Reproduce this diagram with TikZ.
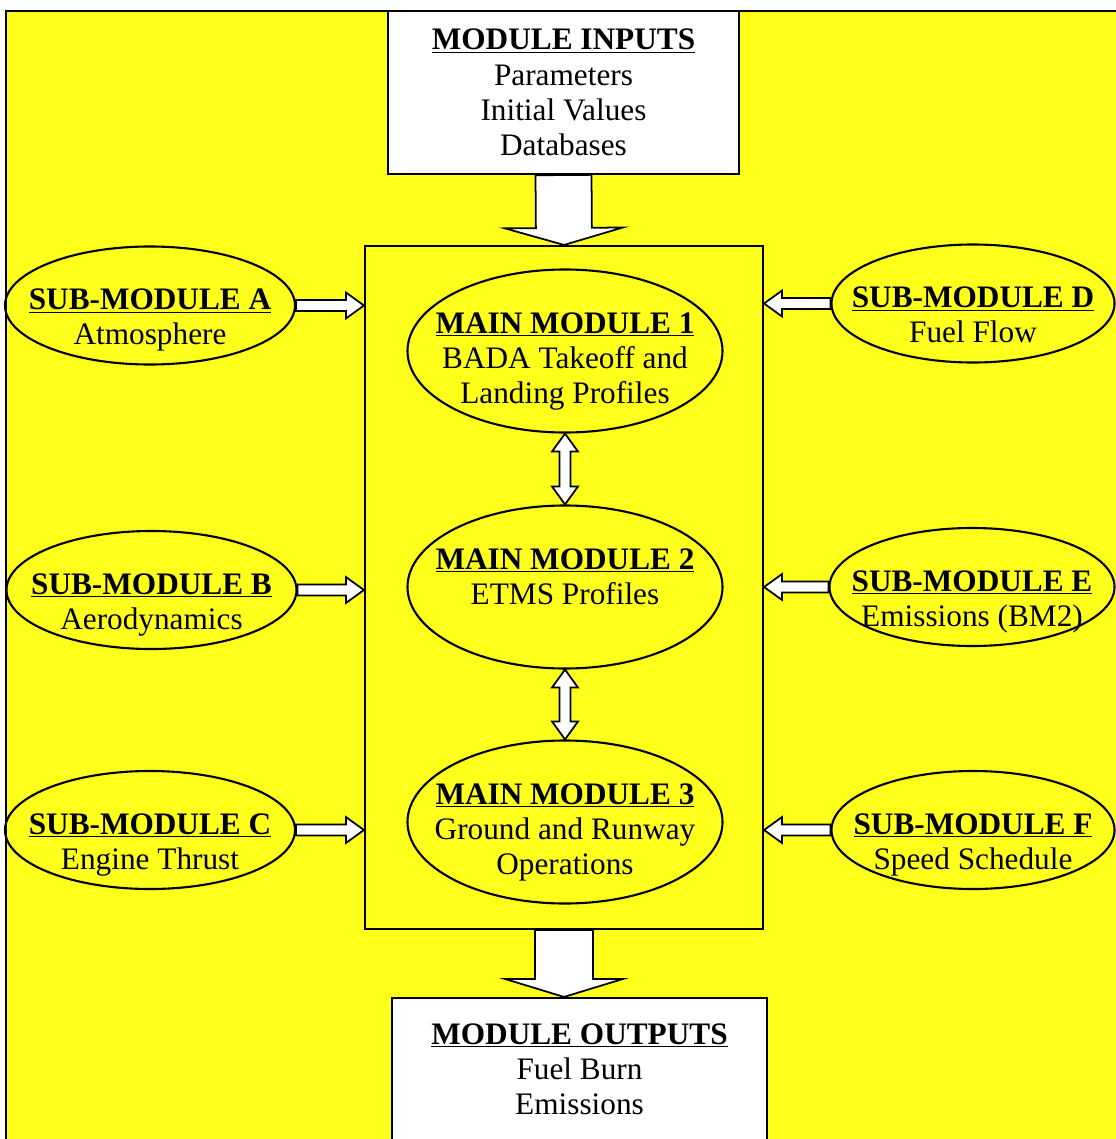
\documentclass[tikz,border=0pt]{standalone}
\usepackage{fontspec}
\setmainfont{Liberation Serif}
\usepackage{tikz}
\usetikzlibrary{calc,shapes.geometric}

\definecolor{chartyellow}{RGB}{255,255,28}

\newcommand{\modtitle}[1]{\underline{\textbf{#1}}}
% white block arrow: from, to, half shaft, half head, head length
\newcommand{\blockarrow}[5]{
	\coordinate (ba) at ($(#2)!#5!(#1)$);
	\draw [arrowbody] ($(#1)!#3!90:(#2)$) -- ($(ba)!#3!-90:(#1)$) -- ($(ba)!#4!-90:(#1)$)
		-- (#2) -- ($(ba)!#4!90:(#1)$) -- ($(ba)!#3!90:(#1)$) -- ($(#1)!#3!-90:(#2)$) -- cycle;
}
% white arrow with two heads
\newcommand{\dblarrow}[2]{
	\coordinate (da) at ($(#1)!0.36cm!(#2)$);
	\coordinate (db) at ($(#2)!0.36cm!(#1)$);
	\draw [arrowbody] (#1) -- ($(da)!0.26cm!90:(#2)$) -- ($(da)!0.11cm!90:(#2)$)
		-- ($(db)!0.11cm!-90:(#1)$) -- ($(db)!0.26cm!-90:(#1)$) -- (#2)
		-- ($(db)!0.26cm!90:(#1)$) -- ($(db)!0.11cm!90:(#1)$)
		-- ($(da)!0.11cm!-90:(#2)$) -- ($(da)!0.26cm!-90:(#2)$) -- cycle;
}

\begin{document}
\begin{tikzpicture}[x=0.2cm,y=0.2cm]
		\tikzstyle{every node}+=[inner sep=0pt, font=\fontsize{17.8}{20}\selectfont]
		\tikzstyle{plainbox}=[draw, fill=white, line width=1.2pt, rectangle, align=center]
		\tikzstyle{submod}=[draw, ellipse, line width=1.2pt, minimum width=5.8cm, minimum height=2.36cm]
		\tikzstyle{mainmod}=[draw, ellipse, line width=1.2pt, minimum width=6.3cm, minimum height=3.26cm]
		\tikzstyle{subtext}=[align=center, anchor=north, yshift=0.34cm]
		\tikzstyle{maintext}=[align=center, anchor=north, yshift=0.78cm]
		\tikzstyle{arrowbody}=[draw, fill=white, line width=1pt]
		\useasboundingbox (0,0) rectangle (111.5,-113.9);
		\draw [fill=chartyellow, line width=1.2pt] (0.6,-1.1) rectangle (111.8,-114);
		% inputs, main block, outputs
		\node [plainbox, minimum width=7.02cm, minimum height=3.26cm] (inputs) at (56.35,-9.25)
			{\modtitle{MODULE INPUTS}\\Parameters\\Initial Values\\Databases};
		\node [draw, line width=1.2pt, minimum width=7.96cm, minimum height=13.66cm] (main) at (56.4,-58.75) {};
		\node [plainbox, minimum width=7.5cm, minimum height=2.84cm] (outputs) at (57.95,-106.9)
			{\modtitle{MODULE OUTPUTS}\\Fuel Burn\\Emissions};
		% main modules
		\node [mainmod] (m1) at (56.5,-35.1) {};
		\node [mainmod] (m2) at (56.5,-58.7) {};
		\node [mainmod] (m3) at (56.5,-82.2) {};
		\node [maintext] (m1text) at (m1.center) {\modtitle{MAIN MODULE 1}\\BADA Takeoff and\\Landing Profiles};
		\node [maintext] (m2text) at (m2.center) {\modtitle{MAIN MODULE 2}\\ETMS Profiles};
		\node [maintext] (m3text) at (m3.center) {\modtitle{MAIN MODULE 3}\\Ground and Runway\\Operations};
		% sub modules
		\node [submod] (subA) at (15.0,-30.55) {};
		\node [submod] (subB) at (15.15,-59.0) {};
		\node [submod] (subC) at (15.0,-83.0) {};
		\node [submod, minimum width=5.66cm] (subD) at (97.3,-30.35) {};
		\node [submod, minimum width=5.7cm] (subE) at (97.2,-58.7) {};
		\node [submod, minimum width=5.66cm] (subF) at (97.3,-83.0) {};
		\node [subtext] (subAtext) at (subA.center) {\modtitle{SUB-MODULE A}\\Atmosphere};
		\node [subtext] (subBtext) at (subB.center) {\modtitle{SUB-MODULE B}\\Aerodynamics};
		\node [subtext] (subCtext) at (subC.center) {\modtitle{SUB-MODULE C}\\Engine Thrust};
		\node [subtext] (subDtext) at (subD.center) {\modtitle{SUB-MODULE D}\\Fuel Flow};
		\node [subtext] (subEtext) at (subE.center) {\modtitle{SUB-MODULE E}\\Emissions (BM2)};
		\node [subtext] (subFtext) at (subF.center) {\modtitle{SUB-MODULE F}\\Speed Schedule};
		% arrow ends
		\coordinate (aTip) at (main.west |- subA.east);
		\coordinate (bTip) at (main.west |- subB.east);
		\coordinate (cTip) at (main.west |- subC.east);
		\coordinate (dTip) at (main.east |- subD.west);
		\coordinate (eTip) at (main.east |- subE.west);
		\coordinate (fTip) at (main.east |- subF.west);
		\coordinate (outTip) at (main.south |- outputs.north);
		% arrows
		\blockarrow{inputs.south}{main.north}{0.56cm}{1.18cm}{0.34cm}
		\blockarrow{main.south}{outTip}{0.58cm}{1.18cm}{0.36cm}
		\blockarrow{subA.east}{aTip}{0.11cm}{0.26cm}{0.36cm}
		\blockarrow{subB.east}{bTip}{0.11cm}{0.26cm}{0.36cm}
		\blockarrow{subC.east}{cTip}{0.11cm}{0.26cm}{0.36cm}
		\blockarrow{subD.west}{dTip}{0.11cm}{0.26cm}{0.36cm}
		\blockarrow{subE.west}{eTip}{0.11cm}{0.26cm}{0.36cm}
		\blockarrow{subF.west}{fTip}{0.11cm}{0.26cm}{0.36cm}
		\dblarrow{m1.south}{m2.north}
		\dblarrow{m2.south}{m3.north}
\end{tikzpicture}
\end{document}
